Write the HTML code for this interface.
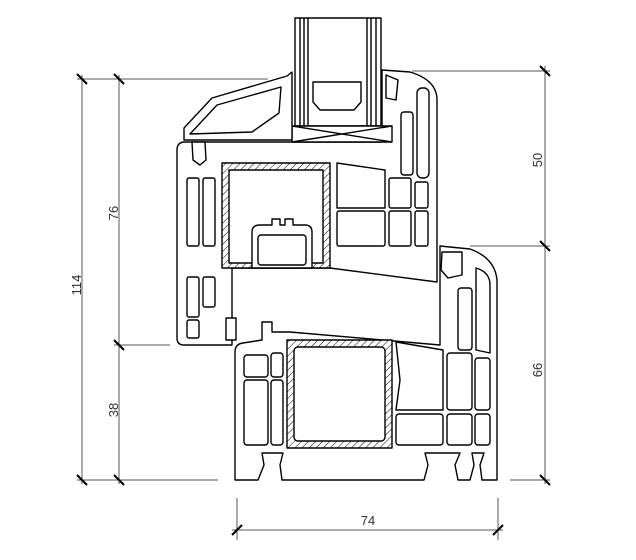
<!DOCTYPE html>
<html><head><style>
html,body{margin:0;padding:0;background:#fff;}
svg{display:block;}
text{font-family:"Liberation Sans",sans-serif;font-size:13px;fill:#333;}
</style></head><body>
<svg width="636" height="560" viewBox="0 0 636 560" xmlns="http://www.w3.org/2000/svg">
<defs>
<pattern id="h" width="5" height="5" patternUnits="userSpaceOnUse" patternTransform="rotate(45)">
<rect width="5" height="5" fill="#fff"/><line x1="0" y1="0" x2="0" y2="5" stroke="#000" stroke-width="1"/>
</pattern>
</defs>
<g stroke="#555" stroke-width="1" fill="none">
<line x1="77" y1="79" x2="268" y2="79"/>
<line x1="114" y1="345" x2="170" y2="345"/>
<line x1="77" y1="480" x2="218" y2="480"/>
<line x1="82" y1="75" x2="82" y2="484"/>
<line x1="119" y1="75" x2="119" y2="484"/>
<line x1="412" y1="71" x2="550" y2="71"/>
<line x1="470" y1="246" x2="550" y2="246"/>
<line x1="510" y1="480" x2="550" y2="480"/>
<line x1="545" y1="66" x2="545" y2="484"/>
<line x1="237" y1="498" x2="237" y2="540"/>
<line x1="498" y1="498" x2="498" y2="540"/>
<line x1="232" y1="530" x2="503" y2="530"/>
</g>
<g stroke="#000" stroke-width="2">
<line x1="77" y1="74" x2="87" y2="84"/><line x1="114" y1="74" x2="124" y2="84"/>
<line x1="114" y1="340" x2="124" y2="350"/>
<line x1="77" y1="475" x2="87" y2="485"/><line x1="114" y1="475" x2="124" y2="485"/>
<line x1="540" y1="66" x2="550" y2="76"/><line x1="540" y1="241" x2="550" y2="251"/>
<line x1="540" y1="475" x2="550" y2="485"/>
<line x1="232" y1="535" x2="242" y2="525"/><line x1="493" y1="535" x2="503" y2="525"/>
</g>
<text transform="translate(81,285) rotate(-90)" text-anchor="middle">114</text>
<text transform="translate(118,213) rotate(-90)" text-anchor="middle">76</text>
<text transform="translate(118,410) rotate(-90)" text-anchor="middle">38</text>
<text transform="translate(542,160) rotate(-90)" text-anchor="middle">50</text>
<text transform="translate(542,370) rotate(-90)" text-anchor="middle">66</text>
<text x="368" y="525" text-anchor="middle">74</text>

<g stroke="#000" stroke-width="1.4" fill="#fff" stroke-linejoin="round">
<!-- frame -->
<path d="M440,246 L470,249 Q495,258 497,280 L497,480 L482,480 L480,465 L484,453 L472,453 L474,465 L470,480 L458,480 L455,465 L460,453 L425,453 L428,465 L424,480 L282,480 L280,465 L283,453 L262,453 L264,465 L258,480 L235,480 L235,352 Q235,344 243,343 L262,340 L262,322 L272,322 L272,332 L290,332 L440,345 L440,246 Z"/>
<!-- sash -->
<path d="M177,150 Q177,142 185,142 L382,142 L382,70 L410,72 Q437,80 437,100 L437,282 L330,268 L232,268 L232,345 L184,345 Q177,345 177,338 Z"/>
<!-- glass -->
<rect x="295" y="18" width="86" height="108"/>
<line x1="300" y1="18" x2="300" y2="126"/><line x1="304" y1="18" x2="304" y2="126"/><line x1="308" y1="18" x2="308" y2="126"/>
<line x1="367" y1="18" x2="367" y2="126"/><line x1="371" y1="18" x2="371" y2="126"/><line x1="376" y1="18" x2="376" y2="126"/>
<path d="M313,82 L361,82 L361,102 L354,110 L320,110 L313,102 Z"/>
<rect x="292" y="126" width="100" height="16"/>
<path d="M292,126 L392,142 M392,126 L292,142" fill="none"/>
<!-- glazing bead -->
<path d="M184,140 L184,128 L212,98 L287,76 L292,72 L292,140 Z"/>
<path d="M190,134 L217,105 L281,87 L279,113 L252,132 Z"/>
<!-- gaskets -->
<path d="M192,142 L205,142 L206,160 L200,165 L193,160 Z"/>
<path d="M442,252 L462,252 L462,275 L448,278 L441,270 Z"/>
<path d="M226,318 L236,318 L236,340 L226,340 Z"/>
<!-- sash reinforcement -->
<rect x="222" y="163" width="108" height="105" fill="url(#h)"/>
<rect x="229" y="170" width="94" height="93" fill="#fff"/>
<path d="M252,268 L252,232 Q252,225 260,225 L272,225 L272,219 L280,219 L280,225 L285,225 L285,219 L293,219 L293,225 L305,225 Q312,225 312,232 L312,268 Z"/>
<rect x="258" y="235" width="48" height="30" rx="3"/>
<!-- sash chambers -->
<rect x="187" y="178" width="12" height="68" rx="2"/>
<rect x="203" y="178" width="12" height="68" rx="2"/>
<rect x="187" y="277" width="12" height="40" rx="2"/>
<rect x="203" y="277" width="12" height="30" rx="2"/>
<rect x="187" y="320" width="12" height="18" rx="2"/>
<path d="M337,163 L385,170 L385,208 L337,208 Z"/>
<rect x="337" y="211" width="48" height="35" rx="2"/>
<rect x="389" y="178" width="22" height="30" rx="2"/>
<rect x="389" y="211" width="22" height="35" rx="2"/>
<rect x="415" y="182" width="13" height="26" rx="2"/>
<rect x="415" y="211" width="13" height="35" rx="2"/>
<rect x="401" y="112" width="12" height="63" rx="3"/>
<rect x="417" y="88" width="12" height="90" rx="5"/>
<path d="M386,75 L398,80 L396,100 L386,98 Z"/>
<!-- frame chambers -->
<rect x="244" y="355" width="24" height="22" rx="3"/>
<rect x="244" y="380" width="24" height="65" rx="3"/>
<rect x="271" y="353" width="12" height="24" rx="3"/>
<rect x="271" y="380" width="12" height="65" rx="3"/>
<rect x="287" y="340" width="105" height="108" fill="url(#h)"/>
<rect x="294" y="347" width="91" height="94" rx="4"/>
<path d="M396,342 L443,350 L443,410 L396,410 L400,380 Z"/>
<rect x="396" y="414" width="47" height="31" rx="3"/>
<rect x="447" y="353" width="25" height="57" rx="3"/>
<rect x="447" y="414" width="25" height="31" rx="3"/>
<rect x="475" y="358" width="15" height="52" rx="3"/>
<rect x="475" y="414" width="15" height="31" rx="3"/>
<rect x="458" y="288" width="14" height="62" rx="3"/>
<path d="M476,268 Q490,272 490,285 L490,353 L476,350 Z"/>
</g>
</svg>
</body></html>
